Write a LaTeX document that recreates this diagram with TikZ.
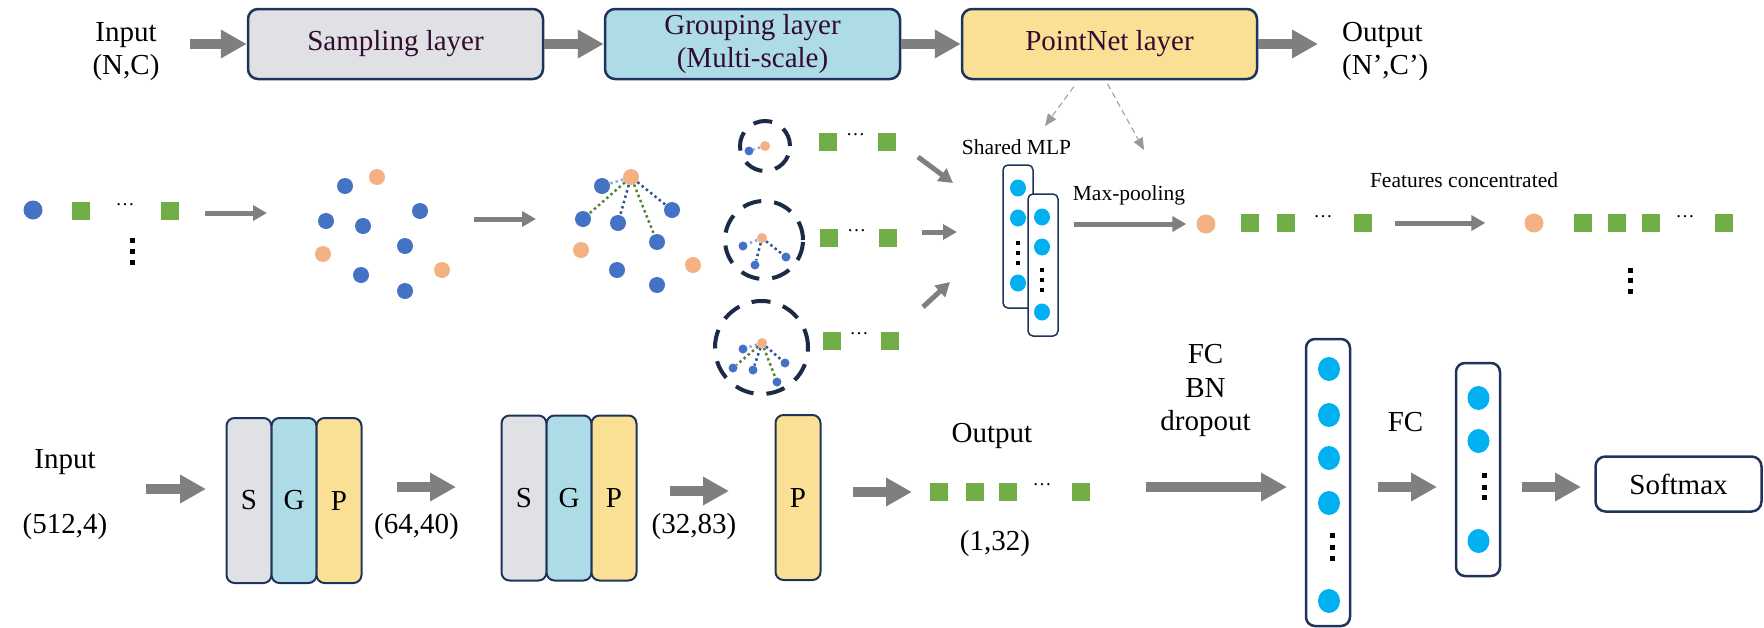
\documentclass[tikz,border=0pt]{standalone}
\usepackage{fontspec}
\setmainfont{Liberation Serif}
\usepackage{tikz}
\usetikzlibrary{arrows.meta,positioning,shapes.geometric}

\definecolor{boxline}{RGB}{31,52,90}
\definecolor{sampfill}{RGB}{224,225,229}
\definecolor{grpfill}{RGB}{173,220,230}
\definecolor{pnfill}{RGB}{250,224,148}
\definecolor{arrgray}{RGB}{127,127,127}
\definecolor{ptblue}{RGB}{68,114,196}
\definecolor{ptorange}{RGB}{244,177,131}
\definecolor{featgreen}{RGB}{112,173,71}
\definecolor{neuron}{RGB}{0,176,240}
\definecolor{ballline}{RGB}{27,42,71}
\definecolor{lnkdark}{RGB}{47,85,151}
\definecolor{lnklight}{RGB}{143,170,220}
\definecolor{lnkgreen}{RGB}{84,130,53}
\definecolor{txtpurple}{RGB}{50,12,48}

\tikzset{
  layerbox/.style={draw=boxline, line width=2.5pt, rounded corners=10pt, minimum width=295pt, minimum height=70pt, inner sep=0pt, text=txtpurple, font=\fontsize{29}{33}\selectfont, align=center},
  sgpbox/.style={draw=boxline, line width=2pt, rounded corners=8pt, minimum width=45pt, minimum height=165pt, inner sep=0pt, font=\fontsize{29}{33}\selectfont},
  colbox/.style={draw=boxline, fill=white, rounded corners=5pt, line width=1.5pt, minimum width=30pt, inner sep=0pt},
  fcbox/.style={draw=boxline, fill=white, rounded corners=9pt, line width=2.5pt, minimum width=44pt, inner sep=0pt},
  lbl/.style={font=\fontsize{29}{33}\selectfont, inner sep=0pt, anchor=base},
  slbl/.style={font=\fontsize{21.5}{25}\selectfont, inner sep=0pt, anchor=base},
  hdots/.style={font=\fontsize{19}{19}\selectfont, inner sep=0pt},
  cpt/.style={circle, inner sep=0pt, minimum size=16pt},
  feat/.style={rectangle, fill=featgreen, inner sep=0pt, minimum size=18pt},
  neu/.style={ellipse, fill=neuron, inner sep=0pt, minimum width=16pt, minimum height=17pt},
  bigneu/.style={neu, minimum width=22pt, minimum height=24pt},
  ball/.style={circle, draw=ballline, line width=4pt, dash pattern=on 19pt off 13pt, inner sep=0pt},
  lnk/.style={line width=2.5pt, dash pattern=on 2.5pt off 3pt},
  bigarr/.style={draw=arrgray, line width=9.5pt, -{Triangle[length=26pt,width=27pt]}},
  smlarr/.style={draw=arrgray, line width=5pt, -{Triangle[length=14pt,width=15pt]}},
  dasharr/.style={draw=arrgray!80, line width=1pt, dash pattern=on 6pt off 4pt, -{Triangle[length=12pt,width=10pt]}}
}

\begin{document}
\begin{tikzpicture}[x=1pt, y=-1pt]
\useasboundingbox (0,0) rectangle (1764,627);

\node[lbl] (inp) at (126,41) {Input};
\node[lbl] (inpdim) at (126,74) {(N,C)};
\node[layerbox, fill=sampfill] (samp) at (395.5,44) {Sampling layer};
\node[layerbox, fill=grpfill] (grp) at (752.5,44) {Grouping layer\\(Multi-scale)};
\node[layerbox, fill=pnfill] (pn) at (1109.5,44) {PointNet layer};
\node[lbl, anchor=base west] (outp) at (1342,41) {Output};
\node[lbl, anchor=base west] (outpdim) at (1342,74) {(N',C')};
\draw[bigarr, shorten <=33pt] (inp.east |- samp.west) -- (samp.west);
\draw[bigarr] (samp) -- (grp);
\draw[bigarr] (grp) -- (pn);
\draw[bigarr, shorten >=24pt] (pn.east) -- (pn.east -| outp.west);

\coordinate (mlptip) at (1045,126);
\coordinate (pooltip) at (1144,150);
\draw[dasharr, shorten <=8pt] ([xshift=-31pt]pn.south) -- (mlptip);
\draw[dasharr, shorten <=4pt] ([xshift=-4pt]pn.south) -- (pooltip);

\node[cpt, fill=ptblue, minimum size=19pt] (pin) at (33,210) {};
\node[feat] (fin1) at (81,211) {};
\node[hdots] (ellin) at (125,205) {…};
\node[feat] (fin2) at (170,211) {};
\foreach \y in {240,251,262}
  \fill (129.5,\y-2.5) rectangle ++(5,5);

\coordinate (s1a) at (205,213);
\coordinate (s1b) at (267,213);
\coordinate (s2a) at (474,219);
\coordinate (s2b) at (536,219);
\draw[smlarr] (s1a) -- (s1b);
\draw[smlarr] (s2a) -- (s2b);

\foreach \px/\py/\c [count=\i] in {345/186/ptblue, 377/177/ptorange, 326/221/ptblue, 363/226/ptblue, 420/211/ptblue, 405/246/ptblue, 323/254/ptorange, 361/275/ptblue, 442/270/ptorange, 405/291/ptblue}
  \node[cpt, fill=\c] (sc\i) at (\px,\py) {};
\foreach \px/\py/\c [count=\i] in {602/186/ptblue, 631/177/ptorange, 583/219/ptblue, 618/223/ptblue, 672/210/ptblue, 657/242/ptblue, 581/250/ptorange, 617/270/ptblue, 693/265/ptorange, 657/285/ptblue}
  \node[cpt, fill=\c] (gr\i) at (\px,\py) {};
\draw[lnk, lnklight] (gr2) -- (gr1);
\foreach \j in {3,6}
  \draw[lnk, lnkgreen] (gr2) -- (gr\j);
\foreach \j in {4,5}
  \draw[lnk, lnkdark] (gr2) -- (gr\j);

\node[ball, minimum size=50pt] (ball1) at (765,146) {};
\node[cpt, fill=ptorange, minimum size=10pt] (b1o) at (765,146) {};
\node[cpt, fill=ptblue, minimum size=9pt] (b1p1) at (749,151) {};
\draw[lnk, lnklight] (b1o) -- (b1p1);

\node[ball, minimum size=78pt] (ball2) at (764,240) {};
\node[cpt, fill=ptorange, minimum size=10pt] (b2o) at (762,238) {};
\foreach \px/\py [count=\i] in {743/246, 755/265, 786/257}
  \node[cpt, fill=ptblue, minimum size=9pt] (b2p\i) at (\px,\py) {};
\draw[lnk, lnklight] (b2o) -- (b2p1);
\draw[lnk, lnkdark] (b2o) -- (b2p2);
\draw[lnk, lnkdark] (b2o) -- (b2p3);

\node[ball, minimum size=93pt] (ball3) at (761.5,347.5) {};
\node[cpt, fill=ptorange, minimum size=10pt] (b3o) at (762,343) {};
\foreach \px/\py [count=\i] in {743/349, 733/368, 753/370, 777/382, 785/363}
  \node[cpt, fill=ptblue, minimum size=9pt] (b3p\i) at (\px,\py) {};
\draw[lnk, lnklight] (b3o) -- (b3p1);
\draw[lnk, lnkgreen] (b3o) -- (b3p2);
\draw[lnk, lnkgreen] (b3o) -- (b3p4);
\draw[lnk, lnkdark] (b3o) -- (b3p3);
\draw[lnk, lnkdark] (b3o) -- (b3p5);

\foreach \r/\xa/\xb/\y in {1/828/887/142, 2/829/888/238, 3/832/890/341} {
  \node[feat] (fr\r a) at (\xa,\y) {};
  \node[hdots] (fr\r d) at ({(\xa+\xb)/2-2},{\y-7}) {…};
  \node[feat] (fr\r b) at (\xb,\y) {};
}

\coordinate (m1a) at (918,157);
\coordinate (m1b) at (953,183);
\coordinate (m2a) at (922,232);
\coordinate (m2b) at (957,232);
\coordinate (m3a) at (923,307);
\coordinate (m3b) at (950,282);
\foreach \m in {m1,m2,m3}
  \draw[smlarr] (\m a) -- (\m b);

\node[slbl] (mlplbl) at (1016.5,154) {Shared MLP};
\node[colbox, minimum height=143pt] (mlpa) at (1018,236.5) {};
\foreach \y [count=\i] in {188,218,283}
  \node[neu] (na\i) at (1018,\y) {};
\foreach \y in {243,253,263}
  \fill (1016,\y-2) rectangle ++(4,4);
\node[colbox, minimum height=142pt] (mlpb) at (1043,265) {};
\foreach \y [count=\i] in {217,247,312}
  \node[neu] (nb\i) at (1042,\y) {};
\foreach \y in {270,280,290}
  \fill (1040,\y-2) rectangle ++(4,4);

\node[slbl] (poollbl) at (1129,200) {Max-pooling};
\node[cpt, fill=ptorange, minimum size=19pt] (pool0) at (1206,224) {};
\foreach \x [count=\i] in {1250,1286,1363}
  \node[feat, minimum size=18.5pt] (pool\i) at (\x,223) {};
\node[hdots] (poold) at (1323,217) {…};
\draw[smlarr, shorten <=15pt, shorten >=10pt] (mlpb.east |- pool0.west) -- (pool0.west);

\node[slbl] (catlbl) at (1464,187.5) {Features concentrated};
\node[cpt, fill=ptorange, minimum size=19pt] (cat0) at (1534,223) {};
\foreach \x [count=\i] in {1583,1617,1651,1724}
  \node[feat, minimum size=18.5pt] (cat\i) at (\x,223) {};
\node[hdots] (catd) at (1685,217) {…};
\foreach \y in {270,280,291}
  \fill (1627.5,\y-2.5) rectangle ++(5,5);
\draw[smlarr, shorten <=23pt, shorten >=39pt] (pool3.east) -- (cat0.west);

\node[lbl] (inb) at (65,468) {Input};
\node[lbl] (inbdim) at (65,533) {(512,4)};
\node[sgpbox, fill=sampfill] (sgs1) at (249,500.5) {S};
\node[sgpbox, fill=grpfill, right=-2pt of sgs1] (sgg1) {G};
\node[sgpbox, fill=pnfill, right=-2pt of sgg1] (sgp1) {P};
\node[lbl] (dim1) at (416.5,533) {(64,40)};
\node[sgpbox, fill=sampfill] (sgs2) at (524,498) {S};
\node[sgpbox, fill=grpfill, right=-2pt of sgs2] (sgg2) {G};
\node[sgpbox, fill=pnfill, right=-2pt of sgg2] (sgp2) {P};
\node[lbl] (dim2) at (694,533) {(32,83)};
\node[sgpbox, fill=pnfill] (sgp3) at (798,497.5) {P};

\node[lbl] (outb) at (992,442) {Output};
\foreach \x [count=\i] in {939,975,1008,1081}
  \node[feat] (ob\i) at (\x,492) {};
\node[hdots] (obd) at (1042,485) {…};
\node[lbl] (outbdim) at (995,550) {(1,32)};

\node[lbl] (fcl1) at (1205.5,363) {FC};
\node[lbl] (fcl2) at (1205.5,397) {BN};
\node[lbl] (fcl3) at (1205.5,430) {dropout};
\node[fcbox, minimum height=287pt] (fc1) at (1328,482.5) {};
\foreach \y [count=\i] in {369,415,458,503,601}
  \node[bigneu] (fa\i) at (1329,\y) {};
\foreach \y in {535,547,558}
  \fill (1329.5,\y-2.5) rectangle ++(5,5);

\node[lbl] (fcl4) at (1405.5,431) {FC};
\node[fcbox, minimum height=213pt] (fc2) at (1478,469.5) {};
\foreach \y [count=\i] in {398,441,541}
  \node[bigneu] (fb\i) at (1478.5,\y) {};
\foreach \y in {475,487,497}
  \fill (1481.5,\y-2.5) rectangle ++(5,5);

\node[draw=boxline, line width=2.5pt, rounded corners=10pt, minimum width=166pt, minimum height=55pt, inner sep=0pt, font=\fontsize{29}{33}\selectfont] (soft) at (1678.5,484) {Softmax};

\foreach \n/\xa/\xb/\y in {b1/146/206/489, b2/397/456/487, b3/670/729/491, b4/853/912/492, b5/1146/1287/487, b6/1378/1437/487, b7/1522/1581/487} {
  \coordinate (\n s) at (\xa,\y);
  \coordinate (\n e) at (\xb,\y);
  \draw[bigarr] (\n s) -- (\n e);
}
\end{tikzpicture}
\end{document}
